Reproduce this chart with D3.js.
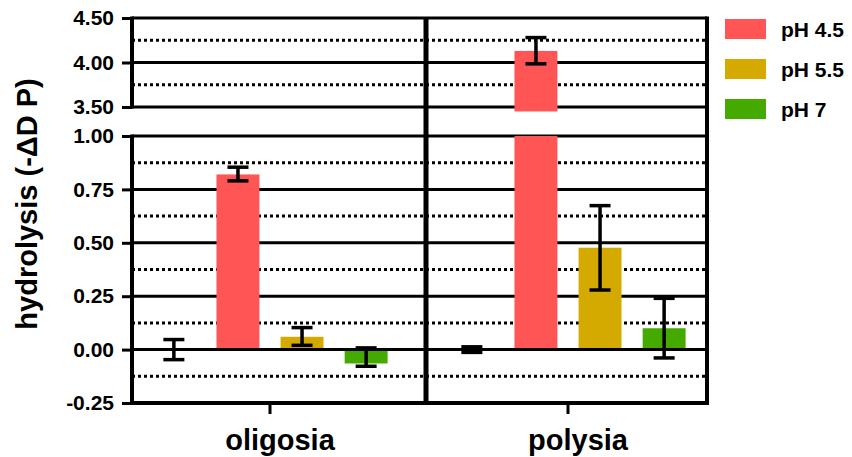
<!DOCTYPE html>
<html>
<head>
<meta charset="utf-8">
<script src="https://cdn.jsdelivr.net/npm/d3@7"></script>
<style>
  body { margin: 0; background: #fff; }
  text { font-family: "Liberation Sans", Arial, sans-serif; font-weight: bold; fill: #000; }
</style>
</head>
<body>
<script>
// data
var categories = ["oligosia", "polysia"];
var series = ["control", "pH 4.5", "pH 5.5", "pH 7"];
var legendSeries = ["pH 4.5", "pH 5.5", "pH 7"];
var colors = ["none", "#FF5555", "#D4AA00", "#44AA00"];

var meanOligosia = [0.00, 0.82, 0.06, -0.065];
var meanPolysia = [0.00, 4.13, 0.477, 0.10];
var errLowOligosia = [-0.047, 0.79, 0.02, -0.078];
var errHighOligosia = [0.047, 0.854, 0.103, 0.008];
var errLowPolysia = [-0.013, 3.985, 0.279, -0.039];
var errHighPolysia = [0.013, 4.28, 0.674, 0.24];

var lowerTicks = [-0.25, 0, 0.25, 0.5, 0.75, 1.0];
var lowerMinor = [-0.125, 0.125, 0.375, 0.625, 0.875];
var upperTicks = [3.5, 4.0, 4.5];
var upperMinor = [3.75, 4.25];

var width = 852, height = 457;
var left = 132, right = 707, divX = 426;

var svg = d3.select("body").append("svg")
    .attr("width", width)
    .attr("height", height);

// broken y axis: two linear pieces
var yLow = d3.scaleLinear().domain([-0.25, 1.0]).range([403, 136]);
var yUp = d3.scaleLinear().domain([3.5, 4.5]).range([107, 18]);

var x = d3.scaleBand().domain(categories).range([121, 717]);
var xs = d3.scaleBand().domain(series).range([0, x.bandwidth()])
    .paddingInner(0.33).paddingOuter(0.49);

function y(v) {
    return v > 2 ? yUp(v) : yLow(v);
}

// rows for bars
var rows = [];
categories.forEach(function (c, ci) {
    var m = ci == 0 ? meanOligosia : meanPolysia;
    var lo = ci == 0 ? errLowOligosia : errLowPolysia;
    var hi = ci == 0 ? errHighOligosia : errHighPolysia;
    series.forEach(function (s, si) {
        rows.push({ cat: c, ser: s, color: colors[si], mean: m[si], lo: lo[si], hi: hi[si] });
    });
});

// grid lines
var grid = svg.append("g");
function hline(v, scale, dotted) {
    grid.append("line")
        .attr("x1", left).attr("x2", right)
        .attr("y1", scale(v)).attr("y2", scale(v))
        .attr("stroke", "#000")
        .attr("stroke-width", 3)
        .attr("stroke-dasharray", dotted ? "3,3" : null);
}
lowerMinor.forEach(function (v) { hline(v, yLow, true); });
upperMinor.forEach(function (v) { hline(v, yUp, true); });
lowerTicks.forEach(function (v) { if (v != 0) hline(v, yLow, false); });
upperTicks.forEach(function (v) { hline(v, yUp, false); });

// bars
var bars = svg.append("g");
rows.forEach(function (d) {
    if (d.color == "none") return;
    var bx = x(d.cat) + xs(d.ser);
    if (d.mean > 2) {
        // lower piece up to 1.0, upper piece from just under the break
        bars.append("rect")
            .attr("x", bx).attr("width", xs.bandwidth())
            .attr("y", yLow(1.0)).attr("height", yLow(0) - yLow(1.0))
            .attr("fill", d.color);
        bars.append("rect")
            .attr("x", bx).attr("width", xs.bandwidth())
            .attr("y", yUp(d.mean)).attr("height", yUp(3.45) - yUp(d.mean))
            .attr("fill", d.color);
    } else {
        bars.append("rect")
            .attr("x", bx).attr("width", xs.bandwidth())
            .attr("y", Math.min(yLow(0), yLow(d.mean)))
            .attr("height", Math.abs(yLow(d.mean) - yLow(0)))
            .attr("fill", d.color);
    }
});

// zero line on top of bars
svg.append("line")
    .attr("x1", left).attr("x2", right)
    .attr("y1", yLow(0)).attr("y2", yLow(0))
    .attr("stroke", "#000").attr("stroke-width", 3);

// error bars
var err = svg.append("g").attr("stroke", "#000").attr("stroke-width", 3.5);
rows.forEach(function (d) {
    var cx = x(d.cat) + xs(d.ser) + xs.bandwidth() / 2;
    err.append("line").attr("x1", cx).attr("x2", cx)
        .attr("y1", y(d.lo)).attr("y2", y(d.hi));
    [d.lo, d.hi].forEach(function (v) {
        err.append("line").attr("x1", cx - 10.5).attr("x2", cx + 10.5)
            .attr("y1", y(v)).attr("y2", y(v));
    });
});

// frame: broken left axis, divider, right border, bottom axis
var frame = svg.append("g").attr("stroke", "#000");
frame.append("line").attr("x1", left).attr("x2", left)
    .attr("y1", yUp(4.5) - 1.5).attr("y2", yUp(3.5) + 1.5).attr("stroke-width", 4);
frame.append("line").attr("x1", left).attr("x2", left)
    .attr("y1", yLow(1.0) - 1.5).attr("y2", yLow(-0.25) + 2).attr("stroke-width", 4);
frame.append("line").attr("x1", divX).attr("x2", divX)
    .attr("y1", yUp(4.5)).attr("y2", yLow(-0.25)).attr("stroke-width", 5);
frame.append("line").attr("x1", right).attr("x2", right)
    .attr("y1", yUp(4.5) - 1.5).attr("y2", yLow(-0.25) + 2).attr("stroke-width", 4);
frame.append("line").attr("x1", left).attr("x2", right + 2)
    .attr("y1", yLow(-0.25)).attr("y2", yLow(-0.25)).attr("stroke-width", 4);

// y axes (ticks and labels), plain hyphen for negatives
var fmt = function (v) { return d3.format(".2f")(v).replace("\u2212", "-"); };
function yAxis(scale, ticks) {
    var g = svg.append("g")
        .attr("transform", "translate(" + left + ",0)")
        .call(d3.axisLeft(scale).tickValues(ticks).tickSize(10).tickPadding(8)
            .tickFormat(fmt));
    g.select(".domain").remove();
    g.selectAll(".tick line").attr("stroke", "#000").attr("stroke-width", 3);
    g.selectAll(".tick text")
        .style("font-size", "21px")
        .style("font-family", "'Liberation Sans', Arial, sans-serif")
        .style("font-weight", "bold");
}
yAxis(yLow, lowerTicks);
yAxis(yUp, upperTicks);

// x axis
var xg = svg.append("g")
    .attr("transform", "translate(0," + yLow(-0.25) + ")")
    .call(d3.axisBottom(x).tickSize(11).tickFormat(""));
xg.select(".domain").remove();
xg.selectAll(".tick line").attr("stroke", "#000").attr("stroke-width", 3);

svg.selectAll(".xlabel")
    .data(categories)
    .enter().append("text")
    .attr("x", function (d) { return x(d) + x.bandwidth() / 2 + 10; })
    .attr("y", 450)
    .attr("text-anchor", "middle")
    .style("font-size", "29px")
    .text(function (d) { return d; });

// y title
svg.append("text")
    .attr("transform", "translate(37,204) rotate(-90)")
    .attr("text-anchor", "middle")
    .style("font-size", "29px")
    .text("hydrolysis (-\u0394D P)");

// legend
var legend = svg.append("g");
legendSeries.forEach(function (s, i) {
    legend.append("rect")
        .attr("x", 725).attr("y", 19 + i * 40)
        .attr("width", 41).attr("height", 20)
        .attr("fill", colors[series.indexOf(s)]);
    legend.append("text")
        .attr("x", 781).attr("y", 37 + i * 40)
        .style("font-size", "21px")
        .text(s);
});
</script>
</body>
</html>
